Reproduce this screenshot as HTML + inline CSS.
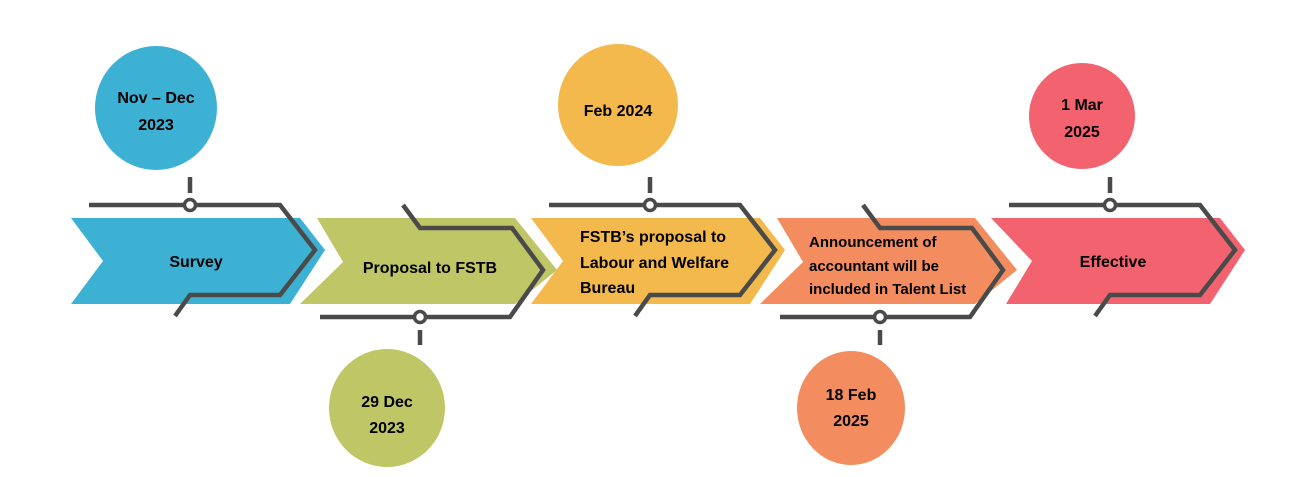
<!DOCTYPE html>
<html><head><meta charset="utf-8"><style>
html,body{margin:0;padding:0;background:#fff;}
svg{display:block;}
text{font-family:"Liberation Sans",sans-serif;font-weight:bold;font-size:16px;fill:#000;}
</style></head><body>
<svg width="1289" height="477" viewBox="0 0 1289 477" xmlns="http://www.w3.org/2000/svg">
<defs>
<g id="up">
<polygon points="71,218 300,218 325,250 290,304 71,304 103,261"/>
</g>
<g id="upl" fill="none" stroke="#4a4a4a" stroke-width="4.5" stroke-linejoin="miter">
<polyline points="89,205 280,205 315,250 280,295 190,295 175,316"/>
<line x1="190" y1="177" x2="190" y2="193"/>
<circle cx="190" cy="205" r="5.5" fill="#fff" stroke-width="3.5"/>
</g>
<g id="dnl" fill="none" stroke="#4a4a4a" stroke-width="4.5">
<polyline points="403,205 420,228 512,228 543,270 510,317 320,317"/>
<line x1="420" y1="330" x2="420" y2="345"/>
<circle cx="420" cy="317" r="5.5" fill="#fff" stroke-width="3.5"/>
</g>
</defs>
<!-- chevrons -->
<polygon fill="#3db1d4" points="71,218 300,218 325,250 290,304 71,304 103,261"/>
<polygon fill="#bfc665" points="317,218 515,218 557,270 515,304 300,304 343,262"/>
<polygon fill="#f3b94d" points="531,218 760,218 785,250 750,304 531,304 563,261"/>
<polygon fill="#f38d5f" points="777,218 975,218 1017,270 975,304 760,304 803,262"/>
<polygon fill="#f2636f" points="991,218 1220,218 1245,250 1210,304 1006,304 1032,261"/>
<!-- lines -->
<use href="#upl"/>
<use href="#upl" transform="translate(460,0)"/>
<use href="#upl" transform="translate(920,0)"/>
<use href="#dnl"/>
<use href="#dnl" transform="translate(460,0)"/>
<!-- circles -->
<ellipse cx="156" cy="108" rx="61" ry="62" fill="#3db1d4"/>
<ellipse cx="618" cy="105" rx="60" ry="61" fill="#f3b94d"/>
<ellipse cx="1082" cy="116" rx="53" ry="53" fill="#f2636f"/>
<ellipse cx="387" cy="408" rx="58" ry="59" fill="#bfc665"/>
<ellipse cx="851" cy="408" rx="54" ry="57" fill="#f38d5f"/>
<!-- circle text -->
<text x="156" y="103" text-anchor="middle">Nov – Dec</text>
<text x="156" y="130" text-anchor="middle">2023</text>
<text x="618" y="116" text-anchor="middle">Feb 2024</text>
<text x="1082" y="110" text-anchor="middle">1 Mar</text>
<text x="1082" y="137" text-anchor="middle">2025</text>
<text x="387" y="407" text-anchor="middle">29 Dec</text>
<text x="387" y="433" text-anchor="middle">2023</text>
<text x="851" y="400" text-anchor="middle">18 Feb</text>
<text x="851" y="426" text-anchor="middle">2025</text>
<!-- chevron text -->
<text x="196" y="267" text-anchor="middle">Survey</text>
<text x="430" y="273" text-anchor="middle">Proposal to FSTB</text>
<text x="580" y="242">FSTB’s proposal to</text>
<text x="580" y="268">Labour and Welfare</text>
<text x="580" y="293">Bureau</text>
<text x="809" y="247" style="font-size:15px">Announcement of</text>
<text x="809" y="271" style="font-size:15px">accountant will be</text>
<text x="809" y="294" style="font-size:15px">included in Talent List</text>
<text x="1113" y="267" text-anchor="middle">Effective</text>
</svg>
</body></html>
